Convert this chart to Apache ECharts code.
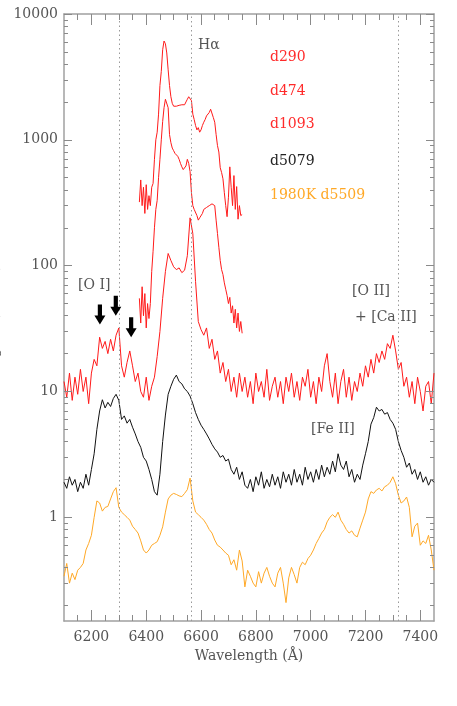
<!DOCTYPE html>
<html>
<head>
<meta charset="utf-8">
<script src="https://cdn.jsdelivr.net/npm/echarts@6/dist/echarts.min.js"></script>
<style>
  html, body { margin: 0; padding: 0; background: #fff; }
  #chart { width: 457px; height: 706px; }
</style>
</head>
<body>
<div id="chart"></div>
<script>
  // sampling of the full spectra: 6100..7450 every 10 A
  const fullStart = 6100, fullStep = 10;
  // sampling of the two early epochs: 6375..6750 every 5 A
  const earlyStart = 6375, earlyStep = 5;

  const d290 = [
    320, 480, 300, 420, 260, 440, 280, 360, 300, 420,
    450, 700, 1000, 1150, 1600, 2700, 3500, 5200, 6100, 5800,
    4900, 3600, 2700, 2200, 1950, 1850, 1800, 1850, 1800, 1880,
    1850, 1900, 1950, 1900, 2000, 2100, 2200, 2150, 2050, 1600,
    1450, 1300, 1200, 1250, 1150, 1200, 1300, 1380, 1450, 1550,
    1550, 1650, 1750, 1700, 1500, 1380, 1100, 900, 800, 600,
    550, 490, 380, 300, 245, 350, 610, 420, 300, 520,
    280, 425, 234, 300, 250, 255
  ];
  const d474 = [
    55, 35, 68, 40, 60, 32, 50, 38, 50, 90,
    130, 200, 280, 330, 500, 700, 1000, 1400, 1800, 2100,
    2150, 1800, 1100, 950, 860, 820, 780, 760, 740, 700,
    650, 610, 580, 570, 620, 700, 650, 560, 380, 300,
    280, 270, 250, 230, 240, 235, 260, 280, 270, 290,
    285, 300, 290, 310, 320, 300, 230, 180, 140, 110,
    93, 85, 73, 65, 58, 50, 56, 42, 48, 35,
    45, 32, 42, 30, 36, 29
  ];
  const d1093 = [
    12, 9, 14, 8.5, 13, 9.5, 15, 10, 13, 8,
    14, 18, 16, 27, 22, 25, 20, 26, 21, 28,
    32, 16, 13, 17, 21, 16, 12, 14, 10, 9,
    13, 8.5, 11, 13, 19, 30, 55, 90, 125, 110,
    98, 93, 96, 88, 92, 120, 240, 180, 75, 36,
    31, 28, 32, 22, 26, 18, 21, 14, 17, 12,
    15, 10, 13, 9, 14, 10, 13, 9, 12, 8,
    14, 10, 12, 9, 15, 8.5, 11, 13, 9, 12,
    8, 13, 10, 14, 9, 12, 8.5, 13, 11, 15,
    9, 12, 8, 13, 10, 16, 20, 12, 9, 14,
    8, 12, 15, 9, 13, 8.5, 12, 10, 14, 11,
    16, 13, 18, 14, 20, 17, 21, 18, 24, 22,
    28, 21, 15, 17, 11, 13, 9, 12, 8, 13,
    10, 7, 11, 12, 8, 14
  ];
  const d5079 = [
    1.9, 1.7, 2.1, 1.8, 2.0, 1.6, 1.9, 1.7, 2.2, 1.8,
    2.4, 3.2, 5.0, 7.0, 8.6, 7.4, 8.2, 7.6, 8.8, 9.5,
    8.5, 6.0, 6.4, 5.6, 6.0, 5.2, 4.6, 4.0, 3.6, 3.0,
    2.8, 2.4, 2.0, 1.6, 1.5, 2.2, 4.0, 6.5, 9.5, 11,
    12.5, 13.5, 12, 11.5, 10.5, 10, 9.2, 8.0, 6.8, 6.0,
    5.4, 5.0, 4.6, 4.2, 3.8, 3.5, 3.3, 3.0, 3.1, 2.8,
    2.9, 2.4, 2.2, 2.5, 2.0, 2.3, 1.8, 1.7, 2.0, 1.6,
    2.1, 1.8, 2.3, 1.7, 2.0, 1.75, 2.2, 1.8, 2.1, 1.7,
    2.3, 1.9, 2.2, 1.8, 2.4, 1.9, 2.2, 1.8, 2.5, 2.0,
    2.3, 1.9, 2.4, 2.0, 2.6, 2.1, 2.5, 2.2, 2.8, 2.3,
    3.2, 2.6, 2.4, 2.8, 2.1, 2.4, 1.9, 2.2, 2.0, 2.6,
    3.2, 4.0, 5.5, 6.2, 7.5, 7.0, 7.2, 6.6, 6.8, 6.0,
    5.6, 5.0, 4.0, 3.4, 3.0, 2.5, 2.7, 2.2, 2.4, 2.0,
    2.3, 1.9, 2.1, 1.8, 2.0, 1.9
  ];
  const d5509 = [
    0.34, 0.43, 0.30, 0.36, 0.32, 0.38, 0.40, 0.43, 0.55, 0.62,
    0.72, 1.0, 1.35, 1.3, 1.12, 1.2, 1.22, 1.4, 1.6, 1.72,
    1.2, 1.1, 1.05, 1.0, 0.95, 0.85, 0.8, 0.75, 0.65, 0.55,
    0.52, 0.55, 0.6, 0.62, 0.64, 0.72, 0.84, 1.1, 1.4, 1.5,
    1.55, 1.52, 1.48, 1.46, 1.55, 1.66, 2.05, 1.35, 1.1, 1.05,
    1.0, 0.95, 0.88, 0.8, 0.75, 0.66, 0.6, 0.58, 0.55, 0.52,
    0.5, 0.42, 0.46, 0.38, 0.55, 0.45, 0.28, 0.38, 0.34, 0.3,
    0.28, 0.37, 0.3, 0.36, 0.4, 0.34, 0.3, 0.28, 0.36, 0.4,
    0.3, 0.21, 0.33, 0.4, 0.35, 0.3, 0.4, 0.44, 0.42, 0.47,
    0.5, 0.55, 0.62, 0.68, 0.75, 0.8, 0.92, 1.0, 1.05, 1.0,
    1.1, 0.95, 0.88, 0.8, 0.75, 0.78, 0.72, 0.7, 0.82, 0.95,
    1.1, 1.4, 1.6, 1.55, 1.65, 1.7, 1.62, 1.75, 1.8, 1.9,
    2.1, 1.85, 1.5, 1.3, 1.35, 1.45, 1.2, 0.7, 0.85, 0.9,
    0.6, 0.65, 0.62, 0.72, 0.55, 0.38
  ];

  const xMin = 6100, xMax = 7450, yMin = 0.15, yMax = 10000;
  const xMajor = [6200, 6400, 6600, 6800, 7000, 7200, 7400];
  const yMajor = [1, 10, 100, 1000, 10000];
  const lineMarks = [6300, 6563, 7320];           // [O I], H-alpha, [O II]
  const arrowTips = [[6231, 34], [6289, 40], [6345, 27]];

  // minor ticks every 50 A, and 2..9 in every decade
  const xMinor = [];
  for (let w = 6150; w < xMax; w += 50) {
    if (w % 200 !== 0) xMinor.push(w);
  }
  const yMinor = [];
  for (let d = 0.1; d < 5000; d *= 10) {
    for (let k = 2; k <= 9; k++) {
      const v = +(k * d).toPrecision(3);
      if (v > yMin) yMinor.push(v);
    }
  }

  function pairs(start, step, vals) {
    return vals.map((v, i) => [start + i * step, v]);
  }

  const font = 'DejaVu Serif';
  const txt = '#555';
  const axisGrey = '#a0a0a0';
  const tickGrey = '#8a8a8a';

  // plot box in pixels, used only to turn tick lengths into axis units
  const gridBox = { left: 64, right: 23, top: 14, bottom: 85 };
  const plotW = 457 - gridBox.left - gridBox.right;
  const plotH = 706 - gridBox.top - gridBox.bottom;
  const xPerPx = (xMax - xMin) / plotW;
  const decPerPx = Math.log10(yMax / yMin) / plotH;

  // tick marks on all four sides, as short segments in data coordinates
  const tickStyle = { type: 'solid', color: tickGrey, width: 1 };
  function seg(a, b) {
    return [{ coord: a, lineStyle: tickStyle }, { coord: b, lineStyle: tickStyle }];
  }
  const tickSegs = [];
  function addX(w, len) {
    const f = Math.pow(10, len * decPerPx);
    tickSegs.push(seg([w, yMin], [w, yMin * f]));
    tickSegs.push(seg([w, yMax], [w, yMax / f]));
  }
  function addY(v, len) {
    const dx = len * xPerPx;
    tickSegs.push(seg([xMin, v], [xMin + dx, v]));
    tickSegs.push(seg([xMax, v], [xMax - dx, v]));
  }
  xMajor.forEach(w => addX(w, 11));
  xMinor.forEach(w => addX(w, 6));
  yMajor.forEach(v => addY(v, 8));
  yMinor.forEach(v => addY(v, 4));

  function xAx(pos, main) {
    return {
      type: 'value', min: xMin, max: xMax, position: pos,
      axisLine: { show: true, onZero: false, lineStyle: { color: axisGrey, width: 1.5 } },
      axisTick: { show: false },
      axisLabel: main
        ? { customValues: xMajor.slice(), color: txt, fontFamily: font, fontSize: 14, margin: 9,
            formatter: v => String(v) }
        : { show: false },
      splitLine: { show: false },
      name: main ? 'Wavelength (Å)' : '',
      nameLocation: 'middle', nameGap: 28,
      nameTextStyle: { color: txt, fontFamily: font, fontSize: 14 }
    };
  }
  function yAx(pos, main) {
    return {
      type: 'log', logBase: 10, min: yMin, max: yMax, position: pos,
      axisLine: { show: true, onZero: false, lineStyle: { color: axisGrey, width: 1.5 } },
      axisTick: { show: false },
      axisLabel: main
        ? { customValues: yMajor.slice(), color: txt, fontFamily: font, fontSize: 14, margin: 6,
            formatter: v => String(v) }
        : { show: false },
      splitLine: { show: false },
      name: main ? 'log F\u03bb (scaled)' : '',
      nameLocation: 'middle', nameGap: 63,
      nameTextStyle: { color: txt, fontFamily: font, fontSize: 14 }
    };
  }

  function spec(name, data, color, extra) {
    return Object.assign({
      name: name, type: 'line', data: data, symbol: 'none', silent: true,
      xAxisIndex: 0, yAxisIndex: 0,
      lineStyle: { color: color, width: 1 }
    }, extra || {});
  }

  function label(text, x, y, color) {
    return {
      type: 'text', left: x, top: y,
      style: { text: text, fill: color, font: '14px "DejaVu Serif"' }
    };
  }

  const chart = echarts.init(document.getElementById('chart'), null, { renderer: 'canvas' });
  chart.setOption({
    animation: false,
    grid: Object.assign({ containLabel: false, outerBoundsMode: 'none' }, gridBox),
    xAxis: [xAx('bottom', true), xAx('top', false)],
    yAxis: [yAx('left', true), yAx('right', false)],
    series: [
      spec('1980K d5509', pairs(fullStart, fullStep, d5509), '#ffa826'),
      spec('d5079', pairs(fullStart, fullStep, d5079), '#111111'),
      spec('d1093', pairs(fullStart, fullStep, d1093), '#ff1a1a', {
        markLine: {
          silent: true, symbol: 'none', animation: false, label: { show: false },
          lineStyle: { color: '#999', type: [1.5, 3], width: 1 },
          data: lineMarks.map(w => ({ xAxis: w })).concat(tickSegs)
        },
        markPoint: {
          silent: true,
          symbol: 'path://M3.4,0 L7.6,0 L7.6,11 L11,11 L5.5,20 L0,11 L3.4,11 Z',
          symbolSize: [11, 20], symbolOffset: [0, '-50%'],
          itemStyle: { color: '#000' }, label: { show: false },
          data: arrowTips.map(p => ({ coord: p }))
        }
      }),
      spec('d474', pairs(earlyStart, earlyStep, d474), '#ff1a1a'),
      spec('d290', pairs(earlyStart, earlyStep, d290), '#ff1a1a')
    ],
    graphic: [
      label('H\u03b1', 198, 38, txt),
      label('d290', 270, 50, '#ff2a2a'),
      label('d474', 270, 84, '#ff2a2a'),
      label('d1093', 270, 117, '#ff2a2a'),
      label('d5079', 270, 154, '#222'),
      label('1980K d5509', 270, 188, '#ffa826'),
      label('[O I]', 78, 278, txt),
      label('[O II]', 352, 284, txt),
      label('+ [Ca II]', 355, 310, txt),
      label('[Fe II]', 311, 422, txt)
    ]
  });
</script>
</body>
</html>
